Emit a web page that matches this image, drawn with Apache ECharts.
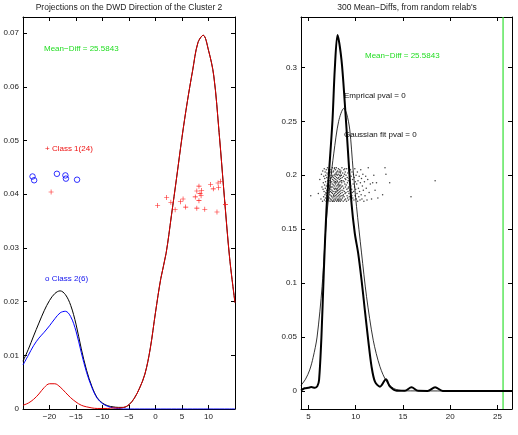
<!DOCTYPE html>
<html>
<head>
<meta charset="utf-8">
<script src="https://cdn.jsdelivr.net/npm/echarts@6.0.0/dist/echarts.min.js"></script>
<style>html,body{margin:0;padding:0;background:#fff}#c{width:518px;height:435px}</style>
</head>
<body>
<div id="c"></div>
<script>
// ---------- Left panel data ----------
const leftTitle = "Projections on the DWD Direction of the Cluster 2";
const rightTitle = "300 Mean\u2212Diffs, from random relab's";
const meanDiff = 25.5843;
const leftXTicks = [-20, -15, -10, -5, 0, 5, 10];
const leftYTicks = [0, 0.01, 0.02, 0.03, 0.04, 0.05, 0.06, 0.07];
const rightXTicks = [5, 10, 15, 20, 25];
const rightYTicks = [0, 0.05, 0.1, 0.15, 0.2, 0.25, 0.3];

const curveX = [-25,-24,-23,-22,-21,-20,-19,-18,-17,-16,-15,-14,-13,-12,-11,-10,-9,-8,-7,-6,-5,-4,-3,-2,-1,0,1,2,3,4,5,6,7,8,9,10,11,12,13,14,15];
const class1Density = [0.0007,0.0011,0.0018,0.0028,0.0040,0.0047,0.0047,0.0041,0.0031,0.0021,0.0013,0.0007,0.0004,0.0002,0.0001,0.0001,0.0001,0.0002,0.0002,0.0003,0.0008,0.0020,0.0039,0.0065,0.0112,0.0180,0.0243,0.0290,0.0360,0.0432,0.0506,0.0572,0.0630,0.0682,0.0696,0.0668,0.0620,0.0515,0.0394,0.0280,0.0198];
const class2Density = [0.0082,0.0100,0.0118,0.0132,0.0143,0.0155,0.0168,0.0179,0.0182,0.0172,0.0145,0.0105,0.0068,0.0040,0.0020,0.0010,0.0005,0.0002,0.0001,0,0,0,0,0,0,0,0,0,0,0,0,0,0,0,0,0,0,0,0,0,0];
const totalDensity = [0.0089,0.0111,0.0136,0.0160,0.0183,0.0202,0.0215,0.0220,0.0213,0.0193,0.0158,0.0112,0.0072,0.0042,0.0021,0.0011,0.0006,0.0004,0.0003,0.0003,0.0008,0.0020,0.0039,0.0065,0.0112,0.0180,0.0243,0.0290,0.0360,0.0432,0.0506,0.0572,0.0630,0.0682,0.0696,0.0668,0.0620,0.0515,0.0394,0.0280,0.0198];

const class1X = [-19.7,0.4,2.1,2.9,3.7,4.7,5.2,5.7,7.5,7.8,7.8,8.2,8.2,8.4,8.7,8.6,9.3,10.4,10.9,11.6,11.8,11.9,12.3,13.2];
const class1Y = [0.0404,0.0379,0.0394,0.0385,0.0371,0.0386,0.0391,0.0376,0.0395,0.0374,0.0406,0.0415,0.0388,0.0401,0.0407,0.0397,0.0372,0.0418,0.0410,0.0367,0.0421,0.0412,0.0424,0.0381];
const class2X = [-23.2,-22.9,-18.6,-17.0,-16.9,-14.8];
const class2Y = [0.0433,0.0426,0.0438,0.0435,0.0429,0.0427];

// ---------- Right panel data ----------
const kdeX = [4.22,4.6,5.0,5.3,5.7,5.95,6.13,6.38,6.63,6.91,7.2,7.55,7.79,8.08,8.5,8.85,9.2,9.56,9.91,10.26,10.62,10.97,11.33,11.68,12.04,12.57,13.2,13.63,14.34,15.2,15.9,16.6,17.6,18.4,19.2,26.53];
const kdeY = [0.0005,0.0025,0.0030,0.0036,0.0030,0.0045,0.0102,0.050,0.110,0.168,0.205,0.251,0.298,0.330,0.307,0.267,0.2205,0.174,0.146,0.128,0.103,0.075,0.047,0.0226,0.0086,0.0040,0.0108,0.0040,0.0003,0.0002,0.0034,0.0002,0.0001,0.0034,0.0001,0];
const gaussX = [4.22,4.7,5.14,5.5,5.92,6.45,6.91,7.3,7.69,8.2,8.75,9.05,9.38,9.73,10.09,10.62,11.15,11.86,12.57,13.28,14.0,14.7,15.5,26.53];
const gaussY = [0.0052,0.011,0.0195,0.031,0.050,0.0968,0.159,0.192,0.2205,0.250,0.262,0.257,0.242,0.205,0.171,0.128,0.0875,0.047,0.0225,0.0086,0.0025,0.0006,0.0001,0];
const rightYRange = [-0.0167, 0.3467];

const mdPoints = [
[6.05,0.183],[6.21,0.196],[6.33,0.178],[6.38,0.201],[6.44,0.189],[6.49,0.176],[6.52,0.204],[6.55,0.187],[6.58,0.193],[6.61,0.180],
[6.63,0.199],[6.66,0.185],[6.68,0.206],[6.70,0.177],[6.71,0.191],[6.73,0.197],[6.75,0.182],[6.77,0.203],[6.79,0.188],[6.80,0.179],
[6.82,0.194],[6.84,0.200],[6.86,0.184],[6.87,0.176],[6.89,0.205],[6.90,0.190],[6.92,0.181],[6.94,0.198],[6.95,0.186],[6.97,0.202],
[6.99,0.178],[7.01,0.192],[7.02,0.207],[7.04,0.183],[7.05,0.195],[7.06,0.176],[7.08,0.189],[7.09,0.201],[7.10,0.180],[7.12,0.197],
[7.13,0.186],[7.14,0.204],[7.15,0.177],[7.17,0.193],[7.18,0.199],[7.19,0.184],[7.20,0.190],[7.22,0.179],[7.23,0.206],[7.24,0.188],
[7.25,0.195],[7.27,0.182],[7.28,0.200],[7.29,0.176],[7.30,0.191],[7.31,0.203],[7.33,0.185],[7.34,0.197],[7.35,0.178],[7.36,0.193],
[7.37,0.187],[7.38,0.205],[7.40,0.181],[7.41,0.198],[7.42,0.189],[7.43,0.177],[7.44,0.202],[7.45,0.184],[7.47,0.194],[7.48,0.180],
[7.49,0.200],[7.50,0.186],[7.52,0.192],[7.53,0.176],[7.54,0.207],[7.56,0.183],[7.57,0.196],[7.58,0.189],[7.59,0.179],[7.61,0.203],
[7.62,0.185],[7.63,0.198],[7.64,0.191],[7.65,0.177],[7.67,0.204],[7.68,0.182],[7.69,0.195],[7.70,0.188],[7.71,0.200],[7.72,0.180],
[7.73,0.193],[7.74,0.176],[7.75,0.206],[7.76,0.187],[7.77,0.197],[7.78,0.183],[7.79,0.190],[7.80,0.178],[7.81,0.201],[7.82,0.194],
[7.83,0.185],[7.84,0.199],[7.85,0.181],[7.86,0.192],[7.87,0.205],[7.88,0.177],[7.89,0.188],[7.90,0.196],[7.91,0.184],[7.92,0.202],
[7.93,0.179],[7.94,0.193],[7.95,0.187],[7.96,0.207],[7.97,0.182],[7.98,0.198],[7.99,0.176],[8.00,0.190],[8.01,0.203],[8.02,0.185],
[8.03,0.195],[8.04,0.180],[8.05,0.200],[8.06,0.188],[8.07,0.177],[8.08,0.194],[8.09,0.204],[8.10,0.183],[8.11,0.191],[8.12,0.197],
[8.13,0.178],[8.14,0.186],[8.15,0.201],[8.16,0.192],[8.17,0.181],[8.18,0.206],[8.19,0.189],[8.20,0.176],[8.21,0.198],[8.22,0.184],
[8.23,0.193],[8.24,0.203],[8.25,0.179],[8.26,0.187],[8.27,0.196],[8.28,0.182],[8.29,0.200],[8.30,0.190],[8.31,0.177],[8.32,0.205],
[8.33,0.185],[8.34,0.194],[8.35,0.180],[8.36,0.199],[8.37,0.188],[8.38,0.176],[8.39,0.202],[8.40,0.183],[8.41,0.197],[8.42,0.191],
[8.43,0.178],[8.44,0.204],[8.45,0.186],[8.46,0.195],[8.47,0.181],[8.48,0.200],[8.49,0.189],[8.51,0.177],[8.53,0.193],[8.55,0.207],
[8.57,0.184],[8.58,0.198],[8.60,0.179],[8.62,0.190],[8.63,0.202],[8.65,0.186],[8.67,0.195],[8.68,0.176],[8.70,0.182],[8.72,0.199],
[8.73,0.188],[8.75,0.205],[8.77,0.180],[8.78,0.194],[8.80,0.185],[8.82,0.201],[8.83,0.177],[8.85,0.192],[8.87,0.197],[8.88,0.183],
[8.90,0.203],[8.92,0.189],[8.93,0.178],[8.95,0.196],[8.97,0.184],[8.98,0.200],[9.00,0.191],[9.03,0.176],[9.05,0.206],[9.07,0.187],
[9.09,0.181],[9.11,0.198],[9.13,0.193],[9.15,0.179],[9.17,0.202],[9.19,0.185],[9.21,0.195],[9.23,0.177],[9.25,0.189],[9.27,0.204],
[9.29,0.183],[9.31,0.197],[9.33,0.180],[9.35,0.192],[9.37,0.200],[9.39,0.186],[9.41,0.178],[9.43,0.194],[9.45,0.205],[9.47,0.182],
[9.49,0.190],[9.52,0.199],[9.55,0.176],[9.58,0.187],[9.61,0.203],[9.64,0.184],[9.67,0.196],[9.70,0.179],[9.73,0.192],[9.76,0.201],
[9.79,0.185],[9.82,0.177],[9.85,0.198],[9.88,0.189],[9.91,0.206],[9.94,0.181],[9.97,0.194],[10.00,0.187],[10.04,0.200],[10.07,0.178],
[10.11,0.192],[10.14,0.183],[10.18,0.203],[10.21,0.176],[10.25,0.195],[10.29,0.188],[10.33,0.180],[10.37,0.199],[10.41,0.185],[10.46,0.177],
[10.50,0.193],[10.54,0.205],[10.58,0.182],[10.62,0.197],[10.66,0.178],[10.71,0.190],[10.76,0.201],[10.81,0.186],[10.87,0.176],[10.93,0.194],
[10.99,0.181],[11.06,0.199],[11.12,0.188],[11.20,0.177],[11.28,0.196],[11.33,0.207],[11.42,0.184],[11.55,0.192],[11.68,0.178],[11.80,0.193],
[11.92,0.200],[12.05,0.186],[12.20,0.193],[12.35,0.179],[12.85,0.182],[13.10,0.207],[13.20,0.201],[13.60,0.193],[5.25,0.181],[15.85,0.180],
[18.40,0.195],[7.55,0.199],[7.66,0.181],[7.87,0.194],[8.05,0.186],[8.15,0.177],[8.35,0.203],[8.50,0.195],[8.65,0.181],[7.95,0.201],
[7.35,0.189],[7.12,0.205],[8.25,0.191],[8.85,0.206],[9.20,0.188],[6.88,0.183],[7.60,0.176],[8.45,0.200],[7.78,0.207],[9.60,0.181]
];

const FONT = 'Liberation Sans, Arial, sans-serif';
const zip = (a, b) => a.map((v, i) => [v, b[i]]);

const chart = echarts.init(document.getElementById('c'), null, {renderer: 'canvas'});

function axisBase(extra) {
  return Object.assign({
    type: 'value',
    axisLine: {show: true, onZero: false, lineStyle: {color: '#000', width: 1}},
    axisTick: {show: true, inside: true, length: 4, lineStyle: {color: '#000'}},
    splitLine: {show: false},
    axisPointer: {show: false},
    axisLabel: {color: '#222', fontSize: 8, fontFamily: FONT, margin: 4}
  }, extra);
}

const minusFmt = v => String(v).replace('-', '\u2212');
const noHover = {silent: true, emphasis: {disabled: true}};

const option = {
  animation: false,
  backgroundColor: '#fff',
  tooltip: {show: false},
  title: [
    {text: leftTitle, left: 129, top: 3, padding: 0, textAlign: 'center',
     textStyle: {fontSize: 8.5, fontWeight: 'normal', color: '#222', fontFamily: FONT}},
    {text: rightTitle, left: 407, top: 3, padding: 0, textAlign: 'center',
     textStyle: {fontSize: 8.5, fontWeight: 'normal', color: '#222', fontFamily: FONT}}
  ],
  grid: [
    {left: 23, top: 17, width: 212, height: 392},
    {left: 301, top: 17, width: 211, height: 392}
  ],
  xAxis: [
    axisBase({gridIndex: 0, position: 'bottom', min: -25, max: 15, interval: 5,
      axisLabel: {color: '#222', fontSize: 8, fontFamily: FONT, margin: 4, showMinLabel: false, showMaxLabel: false, formatter: minusFmt}}),
    axisBase({gridIndex: 0, position: 'top', min: -25, max: 15, interval: 5, axisLabel: {show: false}}),
    axisBase({gridIndex: 1, position: 'bottom', min: 4.22, max: 26.53,
      axisTick: {show: true, inside: true, length: 4, lineStyle: {color: '#000'}, customValues: rightXTicks},
      axisLabel: {color: '#222', fontSize: 8, fontFamily: FONT, margin: 4, customValues: rightXTicks}}),
    axisBase({gridIndex: 1, position: 'top', min: 4.22, max: 26.53,
      axisTick: {show: true, inside: true, length: 4, lineStyle: {color: '#000'}, customValues: rightXTicks},
      axisLabel: {show: false}})
  ],
  yAxis: [
    axisBase({gridIndex: 0, position: 'left', min: 0, max: 0.073, interval: 0.01,
      axisLabel: {color: '#222', fontSize: 8, fontFamily: FONT, margin: 4, showMaxLabel: false,
        formatter: v => String(+(+v).toFixed(2))}}),
    axisBase({gridIndex: 0, position: 'right', min: 0, max: 0.073, interval: 0.01, axisLabel: {show: false}}),
    axisBase({gridIndex: 1, position: 'left', min: rightYRange[0], max: rightYRange[1],
      axisTick: {show: true, inside: true, length: 4, lineStyle: {color: '#000'}, customValues: rightYTicks},
      axisLabel: {color: '#222', fontSize: 8, fontFamily: FONT, margin: 4, customValues: rightYTicks, formatter: v => String(+(+v).toFixed(2))}}),
    axisBase({gridIndex: 1, position: 'right', min: rightYRange[0], max: rightYRange[1],
      axisTick: {show: true, inside: true, length: 4, lineStyle: {color: '#000'}, customValues: rightYTicks},
      axisLabel: {show: false}})
  ],
  series: [
    Object.assign({type: 'line', xAxisIndex: 0, yAxisIndex: 0, data: zip(curveX, totalDensity), smooth: 0.35, showSymbol: false,
     lineStyle: {color: '#000', width: 1}, z: 2}, noHover),
    Object.assign({type: 'line', xAxisIndex: 0, yAxisIndex: 0, data: zip(curveX, class2Density), smooth: 0.35, showSymbol: false,
     lineStyle: {color: '#0000ff', width: 1}, z: 3}, noHover),
    Object.assign({type: 'line', xAxisIndex: 0, yAxisIndex: 0, data: zip(curveX, class1Density), smooth: 0.35, showSymbol: false,
     lineStyle: {color: '#e00000', width: 1}, z: 4}, noHover),
    Object.assign({type: 'scatter', xAxisIndex: 0, yAxisIndex: 0, data: zip(class1X, class1Y),
     symbol: 'path://M4.4,0H5.6V10H4.4Z M0,4.4H10V5.6H0Z', symbolSize: 5,
     itemStyle: {color: '#ff1a1a', borderWidth: 0, opacity: 1}, z: 5}, noHover),
    Object.assign({type: 'scatter', xAxisIndex: 0, yAxisIndex: 0, data: zip(class2X, class2Y),
     symbol: 'circle', symbolSize: 5.5,
     itemStyle: {color: 'none', borderColor: '#0000ff', borderWidth: 1}, z: 5}, noHover),

    Object.assign({type: 'line', xAxisIndex: 2, yAxisIndex: 2, data: zip(kdeX, kdeY), smooth: 0.3, showSymbol: false,
     lineStyle: {color: '#000', width: 2}, z: 3}, noHover),
    Object.assign({type: 'line', xAxisIndex: 2, yAxisIndex: 2, data: zip(gaussX, gaussY), smooth: 0.3, showSymbol: false,
     lineStyle: {color: '#000', width: 0.8}, z: 3}, noHover),
    Object.assign({type: 'line', xAxisIndex: 2, yAxisIndex: 2, data: [[meanDiff, rightYRange[0]], [meanDiff, rightYRange[1]]],
     showSymbol: false, lineStyle: {color: '#33e033', width: 1.2}, z: 2}, noHover),
    Object.assign({type: 'scatter', xAxisIndex: 2, yAxisIndex: 2, data: mdPoints, symbol: 'circle', symbolSize: 1.5,
     itemStyle: {color: '#111'}, z: 4}, noHover)
  ],
  graphic: [
    {type: 'text', x: 44, y: 48.5, silent: true, style: {text: 'Mean\u2212Diff = 25.5843', fill: '#22dd22', font: '8px ' + FONT, verticalAlign: 'middle'}},
    {type: 'text', x: 45, y: 148.3, silent: true, style: {text: '+ Class 1(24)', fill: '#ee1111', font: '8px ' + FONT, verticalAlign: 'middle'}},
    {type: 'text', x: 45, y: 279, silent: true, style: {text: 'o Class 2(6)', fill: '#1111ee', font: '8px ' + FONT, verticalAlign: 'middle'}},
    {type: 'text', x: 365, y: 56, silent: true, style: {text: 'Mean\u2212Diff = 25.5843', fill: '#22dd22', font: '8px ' + FONT, verticalAlign: 'middle'}},
    {type: 'text', x: 344, y: 96, silent: true, style: {text: 'Emprical pval = 0', fill: '#111', font: '8px ' + FONT, verticalAlign: 'middle'}},
    {type: 'text', x: 344, y: 135, silent: true, style: {text: 'Gaussian fit pval = 0', fill: '#111', font: '8px ' + FONT, verticalAlign: 'middle'}}
  ]
};
chart.setOption(option);
</script>
</body>
</html>
